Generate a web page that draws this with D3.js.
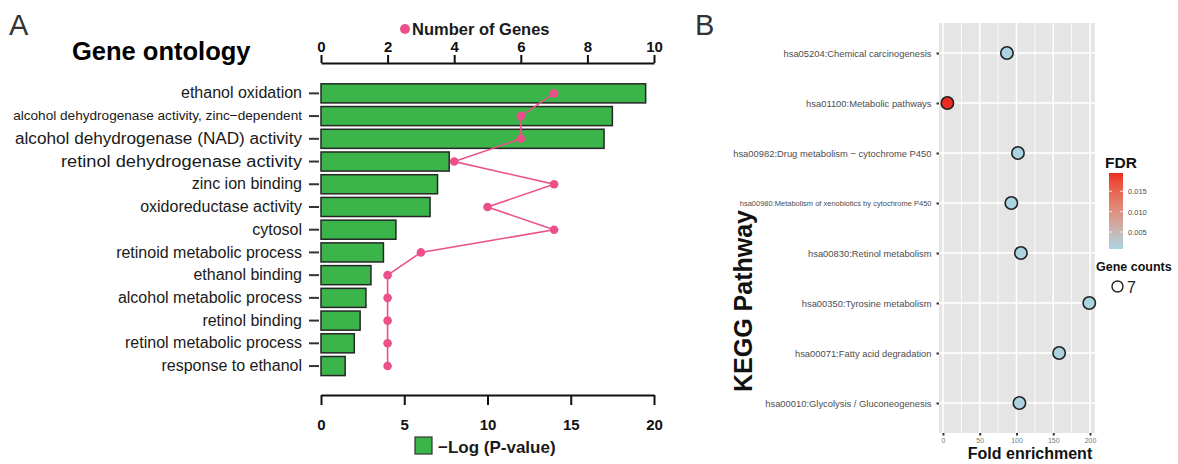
<!DOCTYPE html>
<html>
<head>
<meta charset="utf-8">
<script src="https://cdn.jsdelivr.net/npm/d3@7"></script>
<style>
  body { margin: 0; background: #fff; }
  svg { font-family: "Liberation Sans", Arial, sans-serif; }
</style>
</head>
<body>
<div id="chart"></div>
<script>

// ---- panel A data (gene ontology) ----
var goTerms = ["ethanol oxidation",
	"alcohol dehydrogenase activity, zinc\u2212dependent",
	"alcohol dehydrogenase (NAD) activity",
	"retinol dehydrogenase activity",
	"zinc ion binding",
	"oxidoreductase activity",
	"cytosol",
	"retinoid metabolic process",
	"ethanol binding",
	"alcohol metabolic process",
	"retinol binding",
	"retinol metabolic process",
	"response to ethanol"];
var logP = [19.5, 17.5, 17.0, 7.7, 7.0, 6.55, 4.5, 3.75, 3.0, 2.7, 2.35, 2.0, 1.45];
var geneNumbers = [7, 6, 6, 4, 7, 5, 7, 3, 2, 2, 2, 2, 2];
var geneTicks = [0, 2, 4, 6, 8, 10];
var logPTicks = [0, 5, 10, 15, 20];

// ---- panel B data (KEGG) ----
var keggTerms = ["hsa05204:Chemical carcinogenesis",
	"hsa01100:Metabolic pathways",
	"hsa00982:Drug metabolism \u2212 cytochrome P450 ",
	"hsa00980:Metabolism of xenobiotics by cytochrome P450",
	"hsa00830:Retinol metabolism",
	"hsa00350:Tyrosine metabolism",
	"hsa00071:Fatty acid degradation",
	"hsa00010:Glycolysis / Gluconeogenesis "];
var foldEnrichment = [87, 6, 102, 93, 106, 199, 158, 104];
var fdrValues = [0.0009, 0.0195, 0.0010, 0.0010, 0.0011, 0.0008, 0.0012, 0.0011];
var keggCounts = [7, 7, 7, 7, 7, 7, 7, 7];
var foldTicks = [0, 50, 100, 150, 200];
var foldMinor = [25, 75, 125, 175];
var fdrTicks = [0.005, 0.010, 0.015];
var countLegend = [7];

// label styling (the source mixes sizes / stretched labels)
var goLabelSize = [16, 13.6, 16, 16, 16, 16, 16, 16, 16, 16, 16, 16, 16];
var goLabelWidth = [null, null, 287, 241, null, null, null, null, null, null, null, null, null];
var keggLabelSize = [9.4, 9.4, 9.4, 7.5, 9.4, 9.4, 9.4, 9.4];

var svg = d3.select("#chart").append("svg")
	.attr("width", 1178)
	.attr("height", 464);

var green = "#3bb44a", pink = "#ec4f89";

// ================= PANEL A =================
var xP = d3.scaleLinear().domain([0, 20]).range([321, 654]);
var xG = d3.scaleLinear().domain([0, 10]).range([321, 654]);
var yA = d3.scaleBand().domain(goTerms).range([82, 377.4])
	.paddingInner(0.16).paddingOuter(0.08);

var goData = goTerms.map(function(t, i) {
	return { term: t, p: logP[i], n: geneNumbers[i] };
});

svg.append("text").attr("x", 9).attr("y", 35)
	.style("font-size", "29px").style("fill", "#333").text("A");

svg.append("text").attr("x", 72).attr("y", 60)
	.style("font-size", "25.5px").style("font-weight", "bold").text("Gene ontology");

// bars
svg.append("g").selectAll("rect")
	.data(goData).enter().append("rect")
	.attr("x", xP(0))
	.attr("y", function(d) { return yA(d.term); })
	.attr("width", function(d) { return xP(d.p) - xP(0); })
	.attr("height", yA.bandwidth())
	.attr("fill", green)
	.attr("stroke", "#262626")
	.attr("stroke-width", 1.5);

// top axis (number of genes)
var topAxis = svg.append("g")
	.attr("transform", "translate(0,63)")
	.call(d3.axisTop(xG).tickValues(geneTicks).tickSize(8).tickSizeOuter(0).tickPadding(3));
// bottom axis (-log p)
var botAxis = svg.append("g")
	.attr("transform", "translate(0,395)")
	.call(d3.axisBottom(xP).tickValues(logPTicks).tickSize(10).tickSizeOuter(0).tickPadding(14));

[topAxis, botAxis].forEach(function(ax) {
	ax.select(".domain").attr("stroke", "#111").attr("stroke-width", 2);
	ax.selectAll(".tick line").attr("stroke", "#111").attr("stroke-width", 2);
	ax.selectAll(".tick text").attr("fill", "#111")
		.style("font-size", "15px").style("font-weight", "bold")
		.style("font-family", "Liberation Sans, Arial, sans-serif");
});

// left labels
var leftAxis = svg.append("g")
	.attr("transform", "translate(319,0)")
	.call(d3.axisLeft(yA).tickSize(10).tickPadding(7));
leftAxis.select(".domain").remove();
leftAxis.selectAll(".tick line").attr("stroke", "#333").attr("stroke-width", 2);
leftAxis.selectAll(".tick text").attr("fill", "#1a1a1a")
	.style("font-family", "Liberation Sans, Arial, sans-serif")
	.style("font-size", function(d, i) { return goLabelSize[i] + "px"; })
	.each(function(d, i) {
		if (goLabelWidth[i]) {
			d3.select(this).attr("textLength", goLabelWidth[i])
				.attr("lengthAdjust", "spacingAndGlyphs");
		}
	});

// number of genes line
var geneLine = d3.line()
	.x(function(d) { return xG(d.n); })
	.y(function(d) { return yA(d.term) + yA.bandwidth() / 2; });

svg.append("path")
	.datum(goData)
	.attr("d", geneLine)
	.attr("fill", "none")
	.attr("stroke", pink)
	.attr("stroke-width", 1.6);

svg.append("g").selectAll("circle")
	.data(goData).enter().append("circle")
	.attr("cx", function(d) { return xG(d.n); })
	.attr("cy", function(d) { return yA(d.term) + yA.bandwidth() / 2; })
	.attr("r", 4.3)
	.attr("fill", pink);

// legends A
svg.append("circle").attr("cx", 405).attr("cy", 29).attr("r", 5).attr("fill", pink);
svg.append("text").attr("x", 412).attr("y", 35)
	.style("font-size", "16.5px").style("font-weight", "bold").style("fill", "#1a1a1a")
	.text("Number of Genes");

svg.append("rect").attr("x", 415).attr("y", 437).attr("width", 17).attr("height", 17)
	.attr("fill", green).attr("stroke", "#333").attr("stroke-width", 1.2);
svg.append("text").attr("x", 438).attr("y", 453)
	.style("font-size", "17px").style("font-weight", "bold").style("fill", "#1a1a1a")
	.text("\u2212Log (P-value)");

// ================= PANEL B =================
var xB = d3.scaleLinear().domain([-5.4, 206.8]).range([939, 1095]);
var yB = d3.scalePoint().domain(keggTerms).range([23, 433]).padding(0.6);

var fdrExtent = d3.extent(fdrValues);
var fdrColor = d3.scaleLinear().domain(fdrExtent)
	.range(["#a9d5e3", "#ec2b24"]).interpolate(d3.interpolateLab);

var keggData = keggTerms.map(function(t, i) {
	return { term: t, fe: foldEnrichment[i], fdr: fdrValues[i], n: keggCounts[i] };
});

svg.append("text").attr("x", 695).attr("y", 35)
	.style("font-size", "29px").style("fill", "#333").text("B");

// panel background
svg.append("rect")
	.attr("x", xB.range()[0]).attr("y", 23)
	.attr("width", xB.range()[1] - xB.range()[0]).attr("height", 410)
	.attr("fill", "#e5e5e5");

// grid
svg.append("g").selectAll("line")
	.data(foldMinor).enter().append("line")
	.attr("x1", function(d) { return xB(d); }).attr("x2", function(d) { return xB(d); })
	.attr("y1", 23).attr("y2", 433)
	.attr("stroke", "#fff").attr("stroke-width", 0.9);
svg.append("g").selectAll("line")
	.data(foldTicks).enter().append("line")
	.attr("x1", function(d) { return xB(d); }).attr("x2", function(d) { return xB(d); })
	.attr("y1", 23).attr("y2", 433)
	.attr("stroke", "#fff").attr("stroke-width", 1.5);
svg.append("g").selectAll("line")
	.data(keggTerms).enter().append("line")
	.attr("x1", 939).attr("x2", 1095)
	.attr("y1", function(d) { return yB(d); }).attr("y2", function(d) { return yB(d); })
	.attr("stroke", "#fff").attr("stroke-width", 1.6);

// points
svg.append("g").selectAll("circle")
	.data(keggData).enter().append("circle")
	.attr("cx", function(d) { return xB(d.fe); })
	.attr("cy", function(d) { return yB(d.term); })
	.attr("r", 6.2)
	.attr("fill", function(d) { return fdrColor(d.fdr); })
	.attr("stroke", "#222")
	.attr("stroke-width", 1.6);

// axes B
var yAxisB = svg.append("g")
	.attr("transform", "translate(939,0)")
	.call(d3.axisLeft(yB).tickSize(2.5).tickPadding(5));
yAxisB.select(".domain").remove();
yAxisB.selectAll(".tick line").attr("stroke", "#333").attr("stroke-width", 2);
yAxisB.selectAll(".tick text").attr("fill", "#4d4d4d")
	.style("font-family", "Liberation Sans, Arial, sans-serif")
	.style("font-size", function(d, i) { return keggLabelSize[i] + "px"; });

var xAxisB = svg.append("g")
	.attr("transform", "translate(0,433)")
	.call(d3.axisBottom(xB).tickValues(foldTicks).tickSize(2.5).tickPadding(3));
xAxisB.select(".domain").remove();
xAxisB.selectAll(".tick line").attr("stroke", "#333").attr("stroke-width", 2);
xAxisB.selectAll(".tick text").attr("fill", "#777")
	.style("font-family", "Liberation Sans, Arial, sans-serif")
	.style("font-size", "7px");

svg.append("text")
	.attr("transform", "translate(752,301) rotate(-90)")
	.attr("text-anchor", "middle")
	.style("font-size", "25px").style("font-weight", "bold").style("fill", "#111")
	.text("KEGG Pathway");

svg.append("text").attr("x", 1030).attr("y", 459)
	.attr("text-anchor", "middle")
	.style("font-size", "16px").style("font-weight", "bold").style("fill", "#111")
	.text("Fold enrichment");

// FDR legend
svg.append("text").attr("x", 1105).attr("y", 168)
	.style("font-size", "15.5px").style("font-weight", "bold").style("fill", "#111")
	.text("FDR");

var yF = d3.scaleLinear().domain(fdrExtent).range([249, 173]);
var grad = svg.append("defs").append("linearGradient")
	.attr("id", "fdrGrad")
	.attr("x1", 0).attr("y1", 1).attr("x2", 0).attr("y2", 0);
d3.range(0, 1.0001, 0.1).forEach(function(t) {
	grad.append("stop")
		.attr("offset", t)
		.attr("stop-color", fdrColor(fdrExtent[0] + t * (fdrExtent[1] - fdrExtent[0])));
});
svg.append("rect").attr("x", 1109).attr("y", 173).attr("width", 14).attr("height", 76)
	.attr("fill", "url(#fdrGrad)");

var fdrAxis = svg.append("g").attr("transform", "translate(1123,0)")
	.call(d3.axisRight(yF).tickValues(fdrTicks).tickFormat(d3.format(".3f")).tickSize(0).tickPadding(5));
fdrAxis.select(".domain").remove();
fdrAxis.selectAll(".tick text").attr("fill", "#4d4d4d")
	.style("font-family", "Liberation Sans, Arial, sans-serif")
	.style("font-size", "7.5px");
svg.append("g").selectAll("line")
	.data(fdrTicks).enter().append("line")
	.attr("x1", 1109).attr("x2", 1112)
	.attr("y1", function(d) { return yF(d); }).attr("y2", function(d) { return yF(d); })
	.attr("stroke", "#fff").attr("stroke-width", 0.8);
svg.append("g").selectAll("line")
	.data(fdrTicks).enter().append("line")
	.attr("x1", 1120).attr("x2", 1123)
	.attr("y1", function(d) { return yF(d); }).attr("y2", function(d) { return yF(d); })
	.attr("stroke", "#fff").attr("stroke-width", 0.8);

// gene counts legend
svg.append("text").attr("x", 1096).attr("y", 271)
	.style("font-size", "12.5px").style("font-weight", "bold").style("fill", "#111")
	.text("Gene counts");
var cl = svg.append("g").selectAll("g").data(countLegend).enter().append("g");
cl.append("circle").attr("cx", 1117.5).attr("cy", 286.5).attr("r", 5.5)
	.attr("fill", "#fff").attr("stroke", "#222").attr("stroke-width", 1.4);
cl.append("text").attr("x", 1127).attr("y", 292.5)
	.style("font-size", "16px").style("fill", "#222")
	.text(function(d) { return d; });

</script>
</body>
</html>
